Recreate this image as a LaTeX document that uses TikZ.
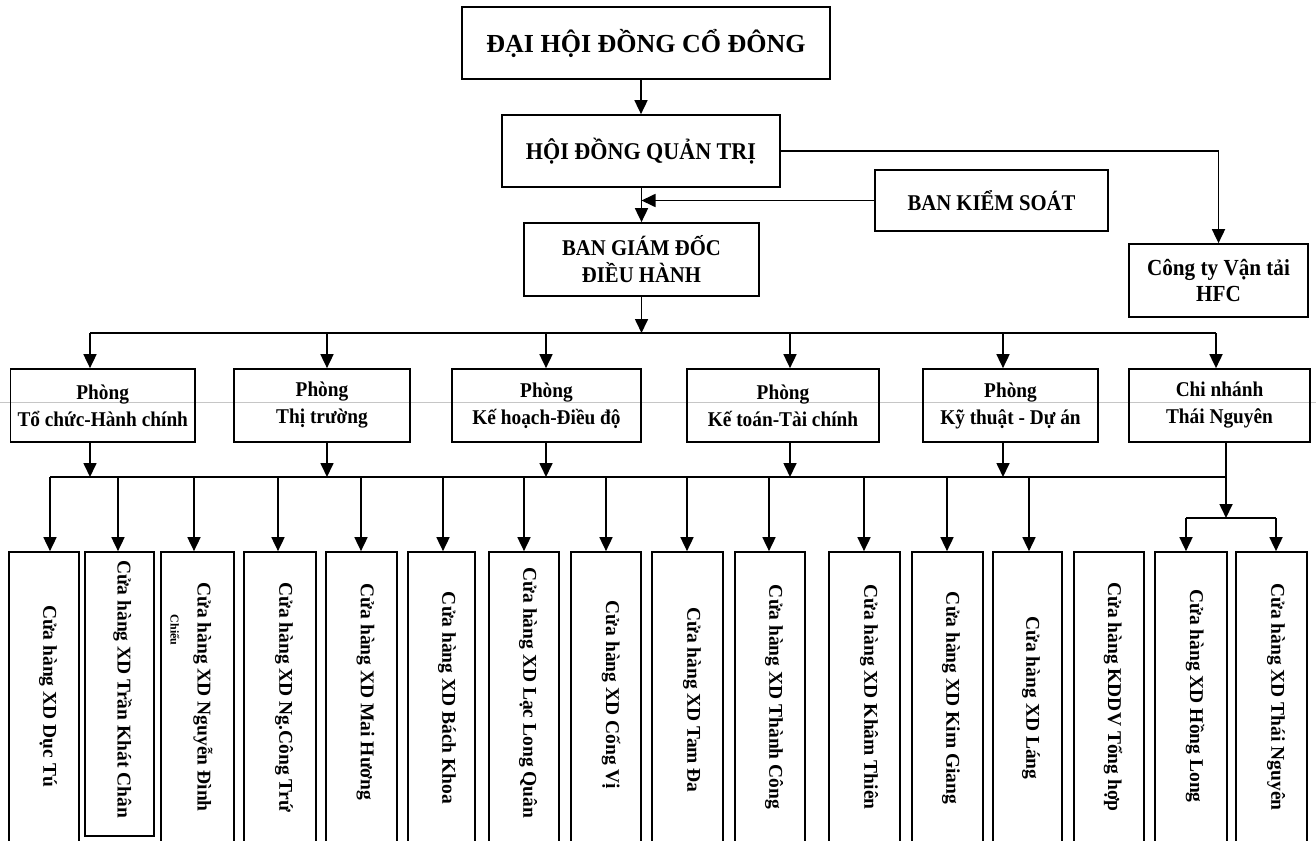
\documentclass[tikz,border=0pt]{standalone}
\usepackage{fontspec}
\usepackage{graphicx}
\setmainfont{Liberation Serif}
\newfontfamily\condfont{Liberation Serif}[FakeStretch=0.92]
\usetikzlibrary{arrows.meta}
\tikzset{
 orgbox/.style={draw, line width=1.7pt, inner sep=0pt, align=center, font=\bfseries},
 arrowline/.style={line width=1.7pt, -{Triangle[length=14pt,width=13pt]}},
 busline/.style={line width=1.7pt},
 shop/.style={draw, line width=1.7pt, inner sep=0pt, minimum height=293pt},
 vtext/.style={rotate=-90, inner sep=0pt, font=\bfseries\fontsize{19.5}{22}\selectfont},
 toptext/.style={font=\bfseries\fontsize{26}{30}\selectfont},
 hdtext/.style={font=\condfont\bfseries\fontsize{24}{28}\selectfont},
 midtext/.style={font=\condfont\bfseries\fontsize{22.5}{27}\selectfont},
 ctytext/.style={font=\condfont\bfseries\fontsize{23}{26}\selectfont},
 deptext/.style={font=\condfont\bfseries\fontsize{21}{27}\selectfont},
}
\begin{document}
\begin{tikzpicture}[x=1pt,y=-1pt]
\useasboundingbox (0,0) rectangle (1316,840);
\fill[white] (0,0) rectangle (1316,840);
\clip (0,0) rectangle (1316,840);

% scan artefact line
\draw[gray!45, line width=0.6pt] (0,402) -- (1316,402);

% top levels
\node[orgbox, toptext, minimum width=368pt, minimum height=72pt] (dhcd) at (646,43) {ĐẠI HỘI ĐỒNG CỔ ĐÔNG};
\node[orgbox, hdtext, minimum width=278pt, minimum height=72pt] (hdqt) at (641,151) {HỘI ĐỒNG QUẢN TRỊ};
\node[orgbox, midtext, minimum width=233pt, minimum height=61pt] (bks) at (991.5,200.5) {BAN KIỂM SOÁT};
\node[orgbox, midtext, minimum width=235pt, minimum height=73pt] (bgd) at (641.5,259.5) {BAN GIÁM ĐỐC\\ĐIỀU HÀNH};
\node[orgbox, ctytext, minimum width=179pt, minimum height=73pt] (cty) at (1218.5,280.5) {Công ty Vận tải\\HFC};

\draw[arrowline] (dhcd.south -| hdqt.north) -- (hdqt.north);
\draw[arrowline] (hdqt.south -| bgd.north) -- (bgd.north);
\draw[arrowline] (bks.west) -- (bks.west -| bgd.north);
\draw[arrowline] (hdqt.east) -- (hdqt.east -| cty.north) -- (cty.north);

% departments
\node[orgbox, deptext, minimum width=184.5pt, minimum height=73pt] (p1) at (102.75,405.5) {Phòng\\Tổ chức-Hành chính};
\node[orgbox, deptext, minimum width=176pt, minimum height=73pt] (p2) at (322,405.5) {Phòng\\Thị trường};
\node[orgbox, deptext, minimum width=189pt, minimum height=73pt] (p3) at (546.5,405.5) {Phòng\\Kế hoạch-Điều độ};
\node[orgbox, deptext, minimum width=192pt, minimum height=73pt] (p4) at (783,405.5) {Phòng\\Kế toán-Tài chính};
\node[orgbox, deptext, minimum width=175pt, minimum height=73pt] (p5) at (1010.5,405.5) {Phòng\\Kỹ thuật - Dự án};
\node[orgbox, deptext, minimum width=181pt, minimum height=73pt] (p6) at (1219.5,405.5) {Chi nhánh\\Thái Nguyên};

% bus 1
\coordinate (b0) at (641.5,333);
\coordinate (d1) at (90,333);
\coordinate (d2) at (327,333);
\coordinate (d3) at (546,333);
\coordinate (d4) at (790,333);
\coordinate (d5) at (1003,333);
\coordinate (d6) at (1216,333);
\draw[arrowline] (bgd.south) -- (b0);
\draw[busline] (d1) -- (d6);
\foreach \i in {1,...,6} { \draw[arrowline] (d\i) -- (d\i |- p\i.north); }

% bus 2
\coordinate (e1) at (90,477);
\coordinate (e2) at (327,477);
\coordinate (e3) at (546,477);
\coordinate (e4) at (790,477);
\coordinate (e5) at (1003,477);
\coordinate (e6) at (1226,477);
\coordinate (f0) at (50,477);
\foreach \i in {1,...,5} { \draw[arrowline] (e\i |- p\i.south) -- (e\i); }
\draw[busline] (f0) -- (e6);
\coordinate (br) at (1226,518);
\coordinate (brL) at (1186,518);
\coordinate (brR) at (1276,518);
\draw[arrowline] (e6 |- p6.south) -- (br);
\draw[busline] (brL) -- (brR);

% shops
\node[shop, minimum width=70pt] (s1) at (44,698.5) {};
\node[shop, minimum width=69pt, minimum height=284pt] (s2) at (119.5,694) {};
\node[shop, minimum width=73pt] (s3) at (197.5,698.5) {};
\node[shop, minimum width=72pt] (s4) at (280,698.5) {};
\node[shop, minimum width=71pt] (s5) at (361.5,698.5) {};
\node[shop, minimum width=67pt] (s6) at (441.5,698.5) {};
\node[shop, minimum width=70pt] (s7) at (524,698.5) {};
\node[shop, minimum width=70pt] (s8) at (606,698.5) {};
\node[shop, minimum width=71pt] (s9) at (687.5,698.5) {};
\node[shop, minimum width=70pt] (s10) at (770,698.5) {};
\node[shop, minimum width=71pt] (s11) at (864.5,698.5) {};
\node[shop, minimum width=71pt] (s12) at (947.5,698.5) {};
\node[shop, minimum width=69pt] (s13) at (1027.5,698.5) {};
\node[shop, minimum width=70pt] (s14) at (1109,698.5) {};
\node[shop, minimum width=72pt] (s15) at (1191,698.5) {};
\node[shop, minimum width=71pt] (s16) at (1271.5,698.5) {};

\node[vtext] (t1) at (48,696) {Cửa hàng XD Dục Tú};
\node[vtext] (t2) at (122.5,689) {Cửa hàng XD Trần Khát Chân};
\node[vtext] (t3) at (203,697) {Cửa hàng XD Nguyễn Đình};
\node[rotate=-90, inner sep=0pt, font=\bfseries\fontsize{12}{13}\selectfont] (t3b) at (175,630) {Chiểu};
\node[vtext] (t4) at (284,697) {Cửa hàng XD Ng.Công Trứ};
\node[vtext] (t5) at (365.5,692) {Cửa hàng XD Mai Hương};
\node[vtext] (t6) at (447,698) {Cửa hàng XD Bách Khoa};
\node[vtext] (t7) at (528,693) {Cửa hàng XD Lạc Long Quân};
\node[vtext] (t8) at (611,695) {Cửa hàng XD Cống Vị};
\node[vtext] (t9) at (692,700) {Cửa hàng XD Tam Đa};
\node[vtext] (t10) at (774,697) {Cửa hàng XD Thành Công};
\node[vtext] (t11) at (869,697) {Cửa hàng XD Khâm Thiên};
\node[vtext] (t12) at (951,698) {Cửa hàng XD Kim Giang};
\node[vtext] (t13) at (1031,698) {Cửa hàng XD Láng};
\node[vtext] (t14) at (1113,697) {Cửa hàng KDDV Tổng hợp};
\node[vtext] (t15) at (1195,696) {Cửa hàng XD Hồng Long};
\node[vtext] (t16) at (1276,697) {Cửa hàng XD Thái Nguyên};

% drops from bus 2
\coordinate (g1) at (50,477);
\coordinate (g2) at (118,477);
\coordinate (g3) at (194,477);
\coordinate (g4) at (278,477);
\coordinate (g5) at (361,477);
\coordinate (g6) at (443,477);
\coordinate (g7) at (524,477);
\coordinate (g8) at (606,477);
\coordinate (g9) at (687,477);
\coordinate (g10) at (769,477);
\coordinate (g11) at (864,477);
\coordinate (g12) at (947,477);
\coordinate (g13) at (1029,477);
\foreach \i in {1,...,13} { \draw[arrowline] (g\i) -- (g\i |- s\i.north); }
\draw[arrowline] (brL) -- (brL |- s15.north);
\draw[arrowline] (brR) -- (brR |- s16.north);
\end{tikzpicture}
\end{document}
